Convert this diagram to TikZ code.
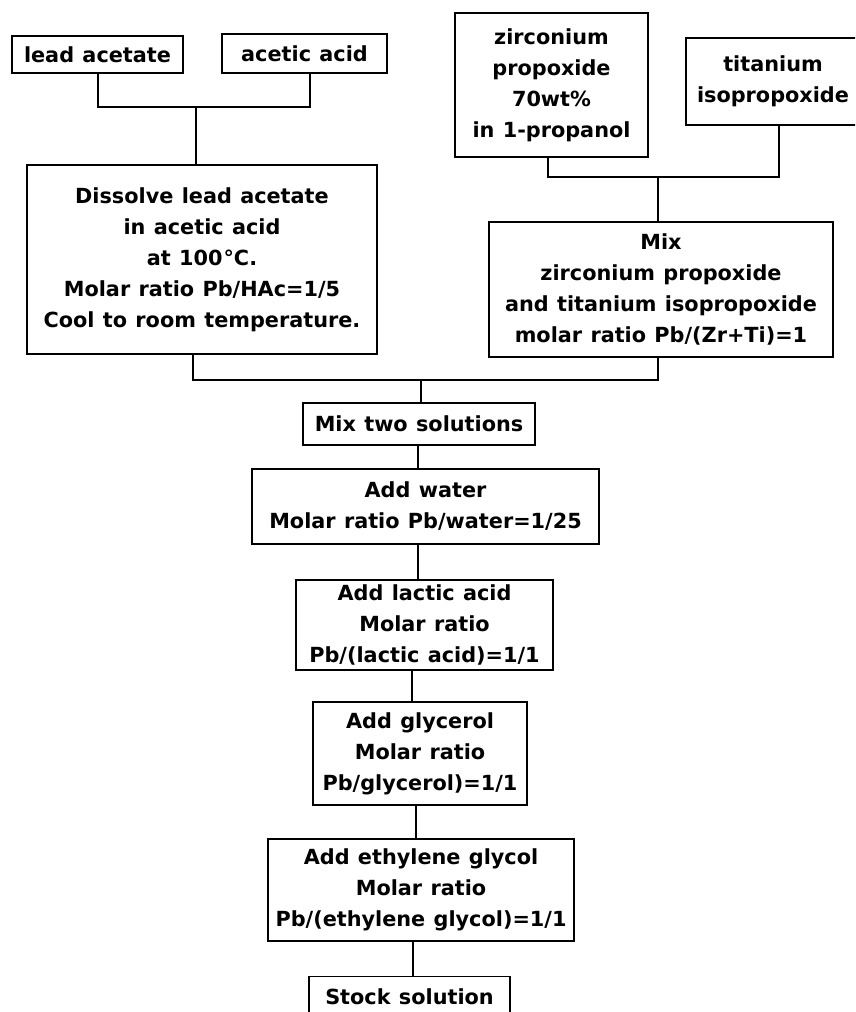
\documentclass[tikz,border=0pt]{standalone}
\usepackage{fontspec}
\setmainfont{DejaVu Sans}[BoldFont={DejaVu Sans Bold},LetterSpace=0,WordSpace=1.15]
\begin{document}
\begin{tikzpicture}[x=1pt,y=-1pt,
  stepbox/.style={draw, line width=1.2pt, align=center, inner sep=0pt,
    font=\bfseries\fontsize{20.8}{31}\selectfont},
  link/.style={line width=1.2pt}]
\useasboundingbox (0,0) rectangle (855,1012);
\clip (0,0) rectangle (855,1012);
\fill[white] (0,0) rectangle (855,1012);

% raw materials
\node[stepbox, minimum width=171pt, minimum height=37pt] (la) at (97.5,54.5) {lead acetate};
\node[stepbox, minimum width=165pt, minimum height=39pt] (aa) at (304.5,53.5) {acetic acid};
\node[stepbox, minimum width=193pt, minimum height=144pt] (zr) at (551.5,85) {zirconium\\propoxide\\70wt\%\\in 1-propanol};
\node[stepbox, minimum width=174pt, minimum height=87pt] (ti) at (773,81.5) {titanium\\isopropoxide};

% first-stage solutions
\node[stepbox, minimum width=350pt, minimum height=189pt] (dis) at (202,259.5)
  {Dissolve lead acetate\\in acetic acid\\at 100{\kern1pt}°C.\\Molar ratio Pb/HAc=1/5\\Cool to room temperature.};
\node[stepbox, minimum width=344pt, minimum height=135pt] (mzt) at (661,289.5)
  {Mix\\zirconium propoxide\\and titanium isopropoxide\\molar ratio Pb/(Zr+Ti)=1};

% main sequence
\node[stepbox, minimum width=232pt, minimum height=42pt] (mix2) at (419,424) {Mix two solutions};
\node[stepbox, minimum width=347pt, minimum height=75pt] (water) at (425.5,506.5) {Add water\\Molar ratio Pb/water=1/25};
\node[stepbox, minimum width=257pt, minimum height=90pt] (lac) at (424.5,625) {Add lactic acid\\Molar ratio\\Pb/(lactic acid)=1/1};
\node[stepbox, minimum width=214pt, minimum height=103pt] (gly) at (420,753.5) {Add glycerol\\Molar ratio\\Pb/glycerol)=1/1};
\node[stepbox, minimum width=306pt, minimum height=102pt] (eg) at (421,890) {Add ethylene glycol\\Molar ratio\\Pb/(ethylene glycol)=1/1};
\node[stepbox, minimum width=201pt, minimum height=40pt, anchor=north] (stock) at (409.5,976) {Stock solution};

% junctions
\coordinate (j1) at (196,107);
\coordinate (j2) at (658,177);
\coordinate (j3) at (421,380);
\coordinate (s1) at (418,0);
\coordinate (s2) at (412,0);
\coordinate (s3) at (416,0);
\coordinate (s4) at (413,0);

\draw[link] ([xshift=0.5pt]la.south) |- (j1) -| ([xshift=5.5pt]aa.south);
\draw[link] (j1) -- (dis.north -| j1);
\draw[link] ([xshift=-3.5pt]zr.south) |- (j2) -| ([xshift=6pt]ti.south);
\draw[link] (j2) -- (mzt.north -| j2);
\draw[link] ([xshift=-9pt]dis.south) |- (j3) -| ([xshift=-3pt]mzt.south);
\draw[link] (j3) -- (mix2.north -| j3);
\draw[link] (mix2.south -| s1) -- (water.north -| s1);
\draw[link] (water.south -| s1) -- (lac.north -| s1);
\draw[link] (lac.south -| s2) -- (gly.north -| s2);
\draw[link] (gly.south -| s3) -- (eg.north -| s3);
\draw[link] (eg.south -| s4) -- (stock.north -| s4);
\end{tikzpicture}
\end{document}
